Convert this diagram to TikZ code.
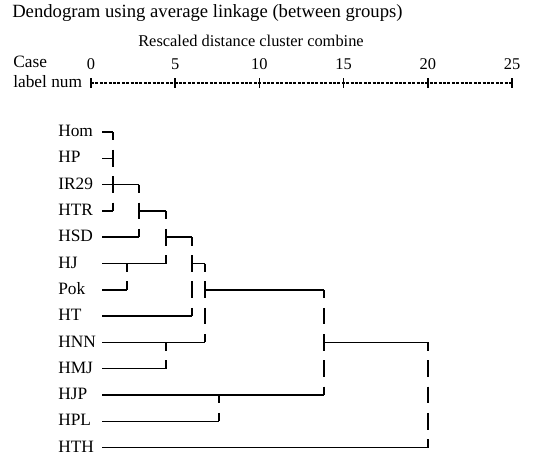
\documentclass[tikz,border=0pt]{standalone}
\usepackage{fontspec}
\setmainfont{Liberation Serif}
\usepackage{tikz}

\tikzset{
  hbar/.style={line width=1.1pt},
  vbar/.style={line width=1.6pt, dash pattern=on 12.5pt off 7.225pt, dash phase=6.25pt},
  axisln/.style={line width=1.1pt, dash pattern=on 2.2pt off 1.1pt},
  tickln/.style={line width=1.1pt},
  lbl/.style={anchor=west, inner sep=0pt, text height=0.7em, text depth=0pt, font=\fontsize{13}{15}\selectfont},
  txt/.style={inner sep=0pt, text height=0.7em, text depth=0pt, font=\fontsize{12.3}{15}\selectfont},
}

\begin{document}
\begin{tikzpicture}[x=0.75pt,y=0.75pt,yscale=-1,xscale=1]
\useasboundingbox (0,0) rectangle (542,457);

%Headings
\node[lbl, font=\fontsize{14}{16}\selectfont] (title) at (12,13) {Dendogram using average linkage (between groups)};
\node[txt] (sub) at (251,42) {Rescaled distance cluster combine};
\node[lbl] (case) at (13,63) {Case};
\node[lbl] (lnum) at (13,83) {label num};

%Scale
\coordinate (a0) at (91,83);
\coordinate (a25) at (512,83);
\draw[axisln] (a0) -- (a25);
\foreach \k [evaluate=\k as \v using int(5*\k)] in {0,...,5}{
  \draw[tickln] ({91+84.2*\k},78) -- ({91+84.2*\k},88);
  \node[txt] (n\v) at ({91+84.2*\k},65) {\v};
}

%Cases
\foreach \nm [count=\i] in {Hom,HP,IR29,HTR,HSD,HJ,Pok,HT,HNN,HMJ,HJP,HPL,HTH}{
  \node[lbl] (\nm) at (58,{132+(\i-1)*26.3}) {\nm};
  \coordinate (s\i) at (102,{132+(\i-1)*26.3});
}

%Merge levels
\coordinate (mA) at (113,0);
\coordinate (mB) at (139,0);
\coordinate (mC) at (166,0);
\coordinate (mD) at (192,0);
\coordinate (mE) at (205,0);
\coordinate (mF) at (324,0);
\coordinate (mG) at (428,0);
\coordinate (mJ) at (127,0);
\coordinate (mN) at (166,0);
\coordinate (mP) at (219,0);

%Horizontal lines
\draw[hbar] (s1) -- (s1 -| mA);
\draw[hbar] (s2) -- (s2 -| mA);
\draw[hbar] (s3) -- (s3 -| mB);
\draw[hbar] (s4) -- (s4 -| mA);
\draw[hbar] (s4 -| mB) -- (s4 -| mC);
\draw[hbar] (s5) -- (s5 -| mB);
\draw[hbar] (s5 -| mC) -- (s5 -| mD);
\draw[hbar] (s6) -- (s6 -| mC);
\draw[hbar] (s6 -| mD) -- (s6 -| mE);
\draw[hbar] (s7) -- (s7 -| mJ);
\draw[hbar] (s7 -| mE) -- (s7 -| mF);
\draw[hbar] (s8) -- (s8 -| mD);
\draw[hbar] (s9) -- (s9 -| mE);
\draw[hbar] (s9 -| mF) -- (s9 -| mG);
\draw[hbar] (s10) -- (s10 -| mN);
\draw[hbar] (s11) -- (s11 -| mF);
\draw[hbar] (s12) -- (s12 -| mP);
\draw[hbar] (s13) -- (s13 -| mG);

%Vertical lines
\draw[vbar] (s1 -| mA) -- (s4 -| mA);
\draw[vbar] (s3 -| mB) -- (s5 -| mB);
\draw[vbar] (s4 -| mC) -- (s6 -| mC);
\draw[vbar] (s6 -| mJ) -- (s7 -| mJ);
\draw[vbar] (s5 -| mD) -- (s8 -| mD);
\draw[vbar] (s6 -| mE) -- (s9 -| mE);
\draw[vbar] (s9 -| mN) -- (s10 -| mN);
\draw[vbar] (s7 -| mF) -- (s11 -| mF);
\draw[vbar] (s11 -| mP) -- (s12 -| mP);
\draw[vbar] (s9 -| mG) -- (s13 -| mG);
\end{tikzpicture}
\end{document}
